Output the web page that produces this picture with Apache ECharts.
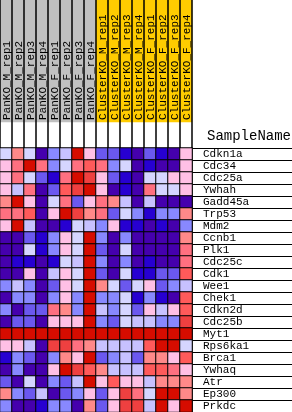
<!DOCTYPE html>
<html>
<head>
<meta charset="utf-8">
<script src="https://cdn.jsdelivr.net/npm/echarts@6/dist/echarts.min.js"></script>
<style>html,body{margin:0;padding:0;background:#fff}#c{width:292px;height:412px}</style>
</head>
<body>
<div id="c"></div>
<script>
// Sample (column) names and their group (0 = PanKO, 1 = ClusterKO)
var samples = ['PanKO_M_rep1','PanKO_M_rep2','PanKO_M_rep3','PanKO_M_rep4',
  'PanKO_F_rep1','PanKO_F_rep2','PanKO_F_rep3','PanKO_F_rep4',
  'ClusterKO_M_rep1','ClusterKO_M_rep2','ClusterKO_M_rep3','ClusterKO_M_rep4',
  'ClusterKO_F_rep1','ClusterKO_F_rep2','ClusterKO_F_rep3','ClusterKO_F_rep4'];
var groups = [0,0,0,0,0,0,0,0,1,1,1,1,1,1,1,1];
// Gene (row) names
var genes = ['Cdkn1a','Cdc34','Cdc25a','Ywhah','Gadd45a','Trp53','Mdm2','Ccnb1','Plk1','Cdc25c','Cdk1',
  'Wee1','Chek1','Cdkn2d','Cdc25b','Myt1','Rps6ka1','Brca1','Ywhaq','Atr','Ep300','Prkdc'];
// Expression level per gene (0 = lowest / blue ... 11 = highest / red), one entry per sample
var levels = [
  [5,7,5,0,3,4,11,6, 2,2,1,0,2,1,0,6],
  [6,8,11,8,3,5,8,9, 8,3,5,0,1,0,0,6],
  [6,8,5,2,1,8,11,10, 6,2,1,0,5,5,6,6],
  [6,4,8,0,2,9,10,11, 6,0,1,0,8,5,5,6],
  [7,11,6,0,5,8,2,6, 8,7,4,0,4,0,0,0],
  [8,8,9,0,6,11,10,7, 8,2,5,3,1,3,3,7],
  [6,11,4,0,0,1,5,4, 3,6,1,1,0,1,0,3],
  [0,0,2,1,3,6,5,11, 3,0,3,0,0,0,0,7],
  [0,0,5,1,3,6,5,11, 2,0,5,0,0,0,0,8],
  [0,1,1,0,1,5,4,11, 3,0,3,0,1,0,0,8],
  [0,0,6,0,4,6,5,11, 2,0,5,1,1,2,2,9],
  [3,4,3,0,2,6,5,11, 7,5,2,5,6,2,3,4],
  [0,3,3,0,3,6,3,11, 3,3,5,1,3,1,0,9],
  [3,0,2,2,8,7,3,11, 4,3,5,2,6,4,6,9],
  [0,2,2,0,6,6,6,11, 3,2,5,4,4,3,3,10],
  [11,11,11,11,11,11,11,11, 11,11,11,11,11,11,11,11],
  [6,6,4,0,10,10,8,7, 4,4,4,4,9,11,11,5],
  [1,3,2,0,3,7,6,11, 2,3,4,2,7,7,6,9],
  [0,3,0,0,6,11,10,9, 7,4,4,4,9,9,8,6],
  [2,0,5,0,3,2,4,11, 6,9,6,6,4,7,7,7],
  [7,3,2,4,0,2,3,6, 2,6,10,8,5,11,11,7],
  [3,0,0,1,3,3,0,7, 2,6,10,10,4,11,6,11]
];
var palette = ['#4500AD','#2700D1','#6B58EF','#8888FF','#C7C1FF','#D5D5FF',
               '#FFC0E5','#FF8989','#FF7080','#FF5A5A','#EF4040','#D60C00'];
var groupColors = ['#C0C0C0','#FFCC00'];

var FONT = '"Liberation Mono", "DejaVu Sans Mono", monospace';
var HEADER_H = 122;
var cells = [];
levels.forEach(function(row, r){ row.forEach(function(v, c){ cells.push([c, r, v]); }); });
var headerCells = groups.map(function(g, c){ return [c, 0, g]; });

var chart = echarts.init(document.getElementById('c'), null, {renderer:'canvas'});
chart.setOption({
  animation: false,
  backgroundColor: '#fff',
  title: { text: 'SampleName', left: 202, top: 124,
    textStyle: { fontFamily: FONT, fontSize: 14, fontWeight: 'normal', color: '#000' } },
  grid: [
    { left: 0, top: 148, width: 192, height: 264 },   // data
    { left: 0, top: 0, width: 192, height: HEADER_H }, // header
    { left: 0, top: HEADER_H, width: 192, height: 26 }, // gap
    { left: 192, top: 148, width: 100, height: 264 }  // row labels
  ],
  xAxis: [
    { gridIndex: 0, type: 'category', data: samples, show: false },
    { gridIndex: 1, type: 'category', data: samples, position: 'bottom', z: 10,
      axisLine: {show:false, onZero:false}, axisTick: {show:false}, axisLabel: {show:false},
      splitLine: { show: true, interval: 0, lineStyle: { color: '#000', width: 1.5 } } },
    { gridIndex: 2, type: 'category', data: samples, z: 10,
      axisLine: {show:false}, axisTick: {show:false}, axisLabel: {show:false},
      splitLine: { show: true, interval: 0, lineStyle: { color: '#000', width: 1.5 } } },
    { gridIndex: 3, type: 'value', show: false }
  ],
  yAxis: [
    { gridIndex: 0, type: 'category', data: genes, inverse: true, show: false },
    { gridIndex: 1, type: 'category', data: ['group'], show: false },
    { gridIndex: 2, type: 'value', show: false },
    { gridIndex: 3, type: 'category', data: genes, inverse: true, position: 'left',
      axisLine: { show: true, lineStyle: { color: '#000', width: 1.5 } },
      axisTick: { show: false },
      splitLine: { show: true, interval: 0, lineStyle: { color: '#000', width: 1 } },
      axisLabel: { inside: true, margin: 11, interval: 0, fontFamily: FONT, fontSize: 11,
        color: '#000', verticalAlign: 'middle', padding: [2,0,0,0] } }
  ],
  visualMap: [
    { type: 'piecewise', show: false, seriesIndex: 0, dimension: 2,
      pieces: palette.map(function(col, i){ return { value: i, color: col }; }) },
    { type: 'piecewise', show: false, seriesIndex: 1, dimension: 2,
      pieces: groupColors.map(function(col, i){ return { value: i, color: col }; }) }
  ],
  series: [
    { type: 'heatmap', xAxisIndex: 0, yAxisIndex: 0, data: cells,
      itemStyle: { borderColor: '#000', borderWidth: 1 }, emphasis: { disabled: true } },
    { type: 'heatmap', xAxisIndex: 1, yAxisIndex: 1, data: headerCells, z: 1,
      itemStyle: { borderWidth: 0 }, emphasis: { disabled: true } }
  ]
});

// Column labels: rotated text placed at each column via the header axis scale
var colLabels = samples.map(function(name, i){
  var px = chart.convertToPixel({ xAxisIndex: 1 }, i);
  return { type: 'text', x: px + 1, y: HEADER_H - 2, rotation: Math.PI / 2, z: 100,
    style: { text: name, fontFamily: FONT, fontSize: 11, fill: '#000',
      align: 'left', verticalAlign: 'middle', textAlign: 'left', textVerticalAlign: 'middle' } };
});
chart.setOption({ graphic: colLabels });
</script>
</body>
</html>
